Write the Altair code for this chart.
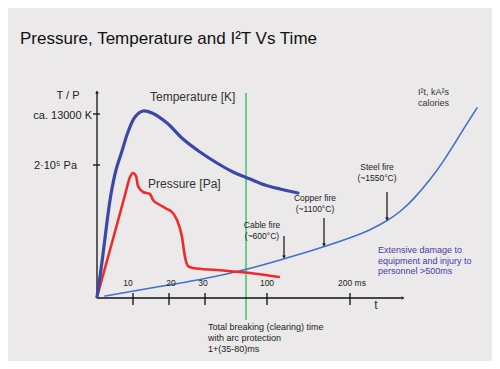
import altair as alt
import pandas as pd

# Schematic units: x = position along time axis from origin, y = level above time axis
temp_x = [0, 5, 10, 14, 19, 25, 31, 38, 46, 55, 70, 86, 103, 120, 136, 153, 168, 183, 201]
temp_y = [0, 35, 75, 103, 127, 146, 165, 180, 186, 184, 174, 158, 145, 134, 125, 118, 112, 108, 104]

pres_x = [0, 16, 28, 33, 36, 39, 41, 46, 53, 56, 63, 70, 75, 80, 85, 88, 91, 96, 120, 153, 182]
pres_y = [0, 58, 102, 120, 124, 121, 111, 105, 103, 97, 92, 88, 85, 77, 60, 40, 31, 29, 27, 24, 20]

i2t_x = [8, 53, 103, 153, 200, 226, 256, 273, 290, 303, 316, 333, 346, 358, 369, 380]
i2t_y = [1, 9, 17, 28, 42, 50, 60, 67, 76, 85, 97, 117, 135, 154, 172, 189]

tick_pos = [36, 72, 108, 170, 253]
tick_labels = ["10", "20", "30", "100", "200 ms"]
tick_label_x = [31, 74, 106, 170, 255]
ytick_pos = [183, 132]
ytick_labels = ["ca. 13000 K", "2·10⁵ Pa"]
ytick_label_x = [-5, -20]
ytick_label_y = [178, 128]

fire_labels = ["Cable fire", "Copper fire", "Steel fire"]
fire_temps = ["(~600°C)", "(~1100°C)", "(~1550°C)"]
fire_x = [187, 227, 290]
fire_top = [61, 79, 105]
fire_tip = [38, 50, 76]
fire_text_x = [165, 218, 280]
fire_text_y = [69, 96, 127]

breaking_x = 149
breaking_y = [204, -23]

X = lambda f="x": alt.X(f"{f}:Q", scale=alt.Scale(domain=[-89, 395], nice=False, zero=False), axis=None)
Y = lambda f="y": alt.Y(f"{f}:Q", scale=alt.Scale(domain=[-64, 289], nice=False, zero=False), axis=None)

def line(xs, ys, color, width, interp="monotone"):
    df = pd.DataFrame({"x": xs, "y": ys, "o": range(len(xs))})
    return alt.Chart(df).mark_line(color=color, strokeWidth=width, interpolate=interp,
                                   strokeCap="round", strokeJoin="round").encode(
        x=X(), y=Y(), order="o:Q")

def rule(x1, y1, x2, y2, color="#111111", width=1.3):
    df = pd.DataFrame({"x": [x1], "y": [y1], "x2": [x2], "y2": [y2]})
    return alt.Chart(df).mark_rule(color=color, strokeWidth=width).encode(
        x=X(), y=Y(), x2="x2:Q", y2="y2:Q")

def point(x, y, shape, size, color="#111111"):
    df = pd.DataFrame({"x": [x], "y": [y]})
    return alt.Chart(df).mark_point(shape=shape, size=size, filled=True, color=color, opacity=1).encode(x=X(), y=Y())

def text(rows, align, size, color, font="Arial"):
    df = pd.DataFrame(rows, columns=["x", "y", "t"])
    return alt.Chart(df).mark_text(align=align, baseline="alphabetic", fontSize=size,
                                   color=color, font=font).encode(x=X(), y=Y(), text="t:N")

layers = []
# breaking time line
layers.append(rule(breaking_x, breaking_y[0], breaking_x, breaking_y[1], "#6dcc8c", 2))
# axes
layers.append(rule(0, 0, 0, 205))
layers.append(point(0, 205, "triangle-up", 14))
layers.append(rule(0, -1, 304, -1))
layers.append(point(306, -1, "triangle-right", 14))
for p in tick_pos:
    layers.append(rule(p, -8, p, 4))
for p in ytick_pos:
    layers.append(rule(-4, p, 3, p))
# curves
layers.append(line(i2t_x, i2t_y, "#3f72cc", 1.6, "basis"))
layers.append(line(pres_x, pres_y, "#f02a2a", 2.6, "monotone"))
layers.append(line(temp_x, temp_y, "#3c48a8", 3.2, "catmull-rom"))
# fire arrows
for fx, ft, fp in zip(fire_x, fire_top, fire_tip):
    layers.append(rule(fx, ft, fx, fp + 3, "#111111", 1.2))
    layers.append(point(fx, fp + 2, "triangle-down", 14))

# texts
layers.append(text([[-77, 253, "Pressure, Temperature and I²T Vs Time"]], "left", 17, "#111111"))
layers.append(text([[-29, 198, "T / P"]], "center", 11, "#222222"))
layers.append(text([[x, y, t] for x, y, t in zip(ytick_label_x, ytick_label_y, ytick_labels)], "right", 11, "#222222"))
layers.append(text([[53, 196, "Temperature [K]"], [51, 109, "Pressure [Pa]"]], "left", 12, "#333333"))
layers.append(text([[321, 202, "I²t, kA²s"], [321, 191, "calories"]], "left", 9, "#333333"))
layers.append(text([[x, 11, t] for x, t in zip(tick_label_x, tick_labels)], "center", 8.5, "#222222"))
fire_rows = []
for x, y, a, b in zip(fire_text_x, fire_text_y, fire_labels, fire_temps):
    fire_rows.append([x, y, a])
    fire_rows.append([x, y - 11, b])
layers.append(text(fire_rows, "center", 8.5, "#222222"))
layers.append(text([[281, 44, "Extensive damage to"], [281, 33, "equipment and  injury to"],
                    [281, 23, "personnel >500ms"]], "left", 9, "#4a3aa8"))
layers.append(text([[111, -33, "Total breaking (clearing) time"], [111, -44, "with arc protection"],
                    [111, -55, "1+(35-80)ms"]], "left", 9, "#222222"))
layers.append(text([[279, -12, "t"]], "center", 12, "#2a3060"))

chart = alt.layer(*layers).properties(
    width=484, height=353, background="#ebe9ea", padding=0,
    autosize=alt.AutoSizeParams(type="none")
).configure_view(stroke=None)

chart.save("out.html", embed_options={"renderer": "svg", "actions": False})
